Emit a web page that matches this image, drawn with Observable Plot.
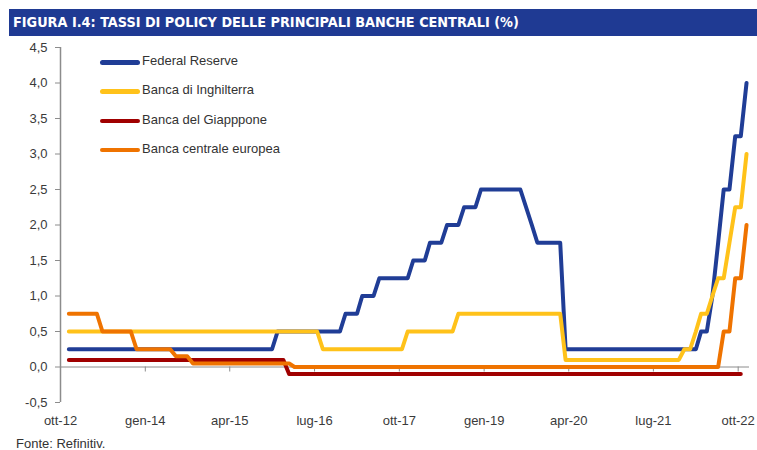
<!DOCTYPE html>
<html>
<head>
<meta charset="utf-8">
<script src="https://cdn.jsdelivr.net/npm/d3@7"></script>
<script src="https://cdn.jsdelivr.net/npm/@observablehq/plot@0.6"></script>
<style>
  html, body { margin: 0; padding: 0; background: #fff; }
  #wrap { position: relative; width: 757px; height: 450px; overflow: hidden; font-family: "Liberation Sans", Arial, sans-serif; }
  #chart { position: absolute; left: 0; top: 0; }
  #title { position: absolute; left: 9px; top: 9px; width: 748px; height: 27px; background: #1f3a93;
           color: #fff; font-family: "Liberation Sans Narrow", "DejaVu Sans Condensed", sans-serif; font-weight: bold;
           font-size: 14.3px; line-height: 27px; padding-left: 4px; box-sizing: border-box; white-space: nowrap; }
  #legend { position: absolute; left: 100px; top: 52px; font-size: 13px; color: #333; }
  .item { position: relative; height: 29.3px; }
  .sw { position: absolute; left: 0; top: 8px; width: 40px; height: 4.5px; border-radius: 3px; }
  .lab { position: absolute; left: 42px; top: 1px; white-space: nowrap; }
  #caption { position: absolute; left: 16px; top: 436px; font-size: 13px; line-height: 16px; color: #333; }
</style>
</head>
<body>
<div id="wrap">
  <div id="chart"></div>
  <div id="title"></div>
  <div id="legend"></div>
  <div id="caption"></div>
</div>
<script>
// ---------- DATA ----------
const titleText = "FIGURA I.4: TASSI DI POLICY DELLE PRINCIPALI BANCHE CENTRALI (%)";
const captionText = "Fonte: Refinitiv.";

const seriesNames = ["Federal Reserve", "Banca di Inghilterra", "Banca del Giapppone", "Banca centrale europea"];
const seriesColors = ["#203d96", "#ffc21a", "#a00000", "#ef7300"];

// monthly values, starting Nov 2012
const firstMonth = "2012-11-15";

const fed = [
  0.25, 0.25,
  0.25, 0.25, 0.25, 0.25, 0.25, 0.25, 0.25, 0.25, 0.25, 0.25, 0.25, 0.25,
  0.25, 0.25, 0.25, 0.25, 0.25, 0.25, 0.25, 0.25, 0.25, 0.25, 0.25, 0.25,
  0.25, 0.25, 0.25, 0.25, 0.25, 0.25, 0.25, 0.25, 0.25, 0.25, 0.25, 0.5,
  0.5, 0.5, 0.5, 0.5, 0.5, 0.5, 0.5, 0.5, 0.5, 0.5, 0.5, 0.75,
  0.75, 0.75, 1.0, 1.0, 1.0, 1.25, 1.25, 1.25, 1.25, 1.25, 1.25, 1.5,
  1.5, 1.5, 1.75, 1.75, 1.75, 2.0, 2.0, 2.0, 2.25, 2.25, 2.25, 2.5,
  2.5, 2.5, 2.5, 2.5, 2.5, 2.5, 2.5, 2.25, 2.0, 1.75, 1.75, 1.75,
  1.75, 1.75, 0.25, 0.25, 0.25, 0.25, 0.25, 0.25, 0.25, 0.25, 0.25, 0.25,
  0.25, 0.25, 0.25, 0.25, 0.25, 0.25, 0.25, 0.25, 0.25, 0.25, 0.25, 0.25,
  0.25, 0.25, 0.5, 0.5, 1.0, 1.75, 2.5, 2.5, 3.25, 3.25, 4.0
];

const boe = [
  0.5, 0.5,
  0.5, 0.5, 0.5, 0.5, 0.5, 0.5, 0.5, 0.5, 0.5, 0.5, 0.5, 0.5,
  0.5, 0.5, 0.5, 0.5, 0.5, 0.5, 0.5, 0.5, 0.5, 0.5, 0.5, 0.5,
  0.5, 0.5, 0.5, 0.5, 0.5, 0.5, 0.5, 0.5, 0.5, 0.5, 0.5, 0.5,
  0.5, 0.5, 0.5, 0.5, 0.5, 0.5, 0.5, 0.25, 0.25, 0.25, 0.25, 0.25,
  0.25, 0.25, 0.25, 0.25, 0.25, 0.25, 0.25, 0.25, 0.25, 0.25, 0.5, 0.5,
  0.5, 0.5, 0.5, 0.5, 0.5, 0.5, 0.5, 0.75, 0.75, 0.75, 0.75, 0.75,
  0.75, 0.75, 0.75, 0.75, 0.75, 0.75, 0.75, 0.75, 0.75, 0.75, 0.75, 0.75,
  0.75, 0.75, 0.1, 0.1, 0.1, 0.1, 0.1, 0.1, 0.1, 0.1, 0.1, 0.1,
  0.1, 0.1, 0.1, 0.1, 0.1, 0.1, 0.1, 0.1, 0.1, 0.1, 0.1, 0.25,
  0.25, 0.5, 0.75, 0.75, 1.0, 1.25, 1.25, 1.75, 2.25, 2.25, 3.0
];

const boj = [
  0.1, 0.1,
  0.1, 0.1, 0.1, 0.1, 0.1, 0.1, 0.1, 0.1, 0.1, 0.1, 0.1, 0.1,
  0.1, 0.1, 0.1, 0.1, 0.1, 0.1, 0.1, 0.1, 0.1, 0.1, 0.1, 0.1,
  0.1, 0.1, 0.1, 0.1, 0.1, 0.1, 0.1, 0.1, 0.1, 0.1, 0.1, 0.1,
  0.1, -0.1, -0.1, -0.1, -0.1, -0.1, -0.1, -0.1, -0.1, -0.1, -0.1, -0.1,
  -0.1, -0.1, -0.1, -0.1, -0.1, -0.1, -0.1, -0.1, -0.1, -0.1, -0.1, -0.1,
  -0.1, -0.1, -0.1, -0.1, -0.1, -0.1, -0.1, -0.1, -0.1, -0.1, -0.1, -0.1,
  -0.1, -0.1, -0.1, -0.1, -0.1, -0.1, -0.1, -0.1, -0.1, -0.1, -0.1, -0.1,
  -0.1, -0.1, -0.1, -0.1, -0.1, -0.1, -0.1, -0.1, -0.1, -0.1, -0.1, -0.1,
  -0.1, -0.1, -0.1, -0.1, -0.1, -0.1, -0.1, -0.1, -0.1, -0.1, -0.1, -0.1,
  -0.1, -0.1, -0.1, -0.1, -0.1, -0.1, -0.1, -0.1, -0.1, -0.1
];

const ecb = [
  0.75, 0.75,
  0.75, 0.75, 0.75, 0.75, 0.5, 0.5, 0.5, 0.5, 0.5, 0.5, 0.25, 0.25,
  0.25, 0.25, 0.25, 0.25, 0.25, 0.15, 0.15, 0.15, 0.05, 0.05, 0.05, 0.05,
  0.05, 0.05, 0.05, 0.05, 0.05, 0.05, 0.05, 0.05, 0.05, 0.05, 0.05, 0.05,
  0.05, 0.05, 0, 0, 0, 0, 0, 0, 0, 0, 0, 0,
  0, 0, 0, 0, 0, 0, 0, 0, 0, 0, 0, 0,
  0, 0, 0, 0, 0, 0, 0, 0, 0, 0, 0, 0,
  0, 0, 0, 0, 0, 0, 0, 0, 0, 0, 0, 0,
  0, 0, 0, 0, 0, 0, 0, 0, 0, 0, 0, 0,
  0, 0, 0, 0, 0, 0, 0, 0, 0, 0, 0, 0,
  0, 0, 0, 0, 0, 0, 0.5, 0.5, 1.25, 1.25, 2.0
];

const xDomain = ["2012-10-01", "2022-12-01"];
const xTickDates = ["2012-10-01", "2014-01-01", "2015-04-01", "2016-07-01", "2017-10-01", "2019-01-01", "2020-04-01", "2021-07-01", "2022-10-01"];
const xTickLabels = ["ott-12", "gen-14", "apr-15", "lug-16", "ott-17", "gen-19", "apr-20", "lug-21", "ott-22"];
const yTicks = [-0.5, 0, 0.5, 1, 1.5, 2, 2.5, 3, 3.5, 4, 4.5];

// ---------- BUILD ----------
const parse = d3.utcParse("%Y-%m-%d");
const start = parse(firstMonth);
const monthDate = (i) => d3.utcMonth.offset(start, i);
const toRows = (arr) => arr.map((v, i) => ({date: monthDate(i), value: v}));
const allSeries = [fed, boe, boj, ecb];

const tickDates = xTickDates.map(parse);
const fmtY = (d) => d.toFixed(1).replace(".", ",");

const chart = Plot.plot({
  width: 757,
  height: 432,
  marginTop: 47,
  marginBottom: 30,
  marginLeft: 60,
  marginRight: 8,
  style: {fontFamily: '"Liberation Sans", Arial, sans-serif', fontSize: "13px", background: "transparent", color: "#3a3a3a"},
  x: {type: "utc", domain: xDomain.map(parse), label: null},
  y: {domain: [yTicks[0], yTicks[yTicks.length - 1]], label: null},
  marks: [
    Plot.ruleY([0], {stroke: "#8c8c8c", strokeWidth: 1}),
    Plot.ruleX(tickDates.slice(1), {y1: 0, y2: 0, insetBottom: -5, stroke: "#8c8c8c", strokeWidth: 1}),
    Plot.ruleX([parse(xDomain[0])], {y1: yTicks[0], y2: yTicks[yTicks.length - 1], stroke: "#8c8c8c", strokeWidth: 1.5}),
    Plot.axisY({ticks: yTicks, tickSize: 5, tickPadding: 8, tickFormat: fmtY, stroke: "#8c8c8c", fill: "#3a3a3a", fontSize: 13}),
    Plot.axisX({ticks: tickDates, tickSize: 0, tickPadding: 13, tickFormat: (d, i) => xTickLabels[i], fill: "#3a3a3a", fontSize: 13}),
    ...allSeries.map((s, k) => Plot.line(toRows(s), {
      x: "date", y: "value", stroke: seriesColors[k], strokeWidth: 4,
      strokeLinecap: "round", strokeLinejoin: "round"
    }))
  ]
});
document.getElementById("chart").appendChild(chart);

document.getElementById("title").textContent = titleText;
document.getElementById("caption").textContent = captionText;
const legend = document.getElementById("legend");
seriesNames.forEach((name, k) => {
  const item = document.createElement("div");
  item.className = "item";
  const sw = document.createElement("div");
  sw.className = "sw";
  sw.style.background = seriesColors[k];
  const lab = document.createElement("div");
  lab.className = "lab";
  lab.textContent = name;
  item.appendChild(sw);
  item.appendChild(lab);
  legend.appendChild(item);
});
</script>
</body>
</html>
